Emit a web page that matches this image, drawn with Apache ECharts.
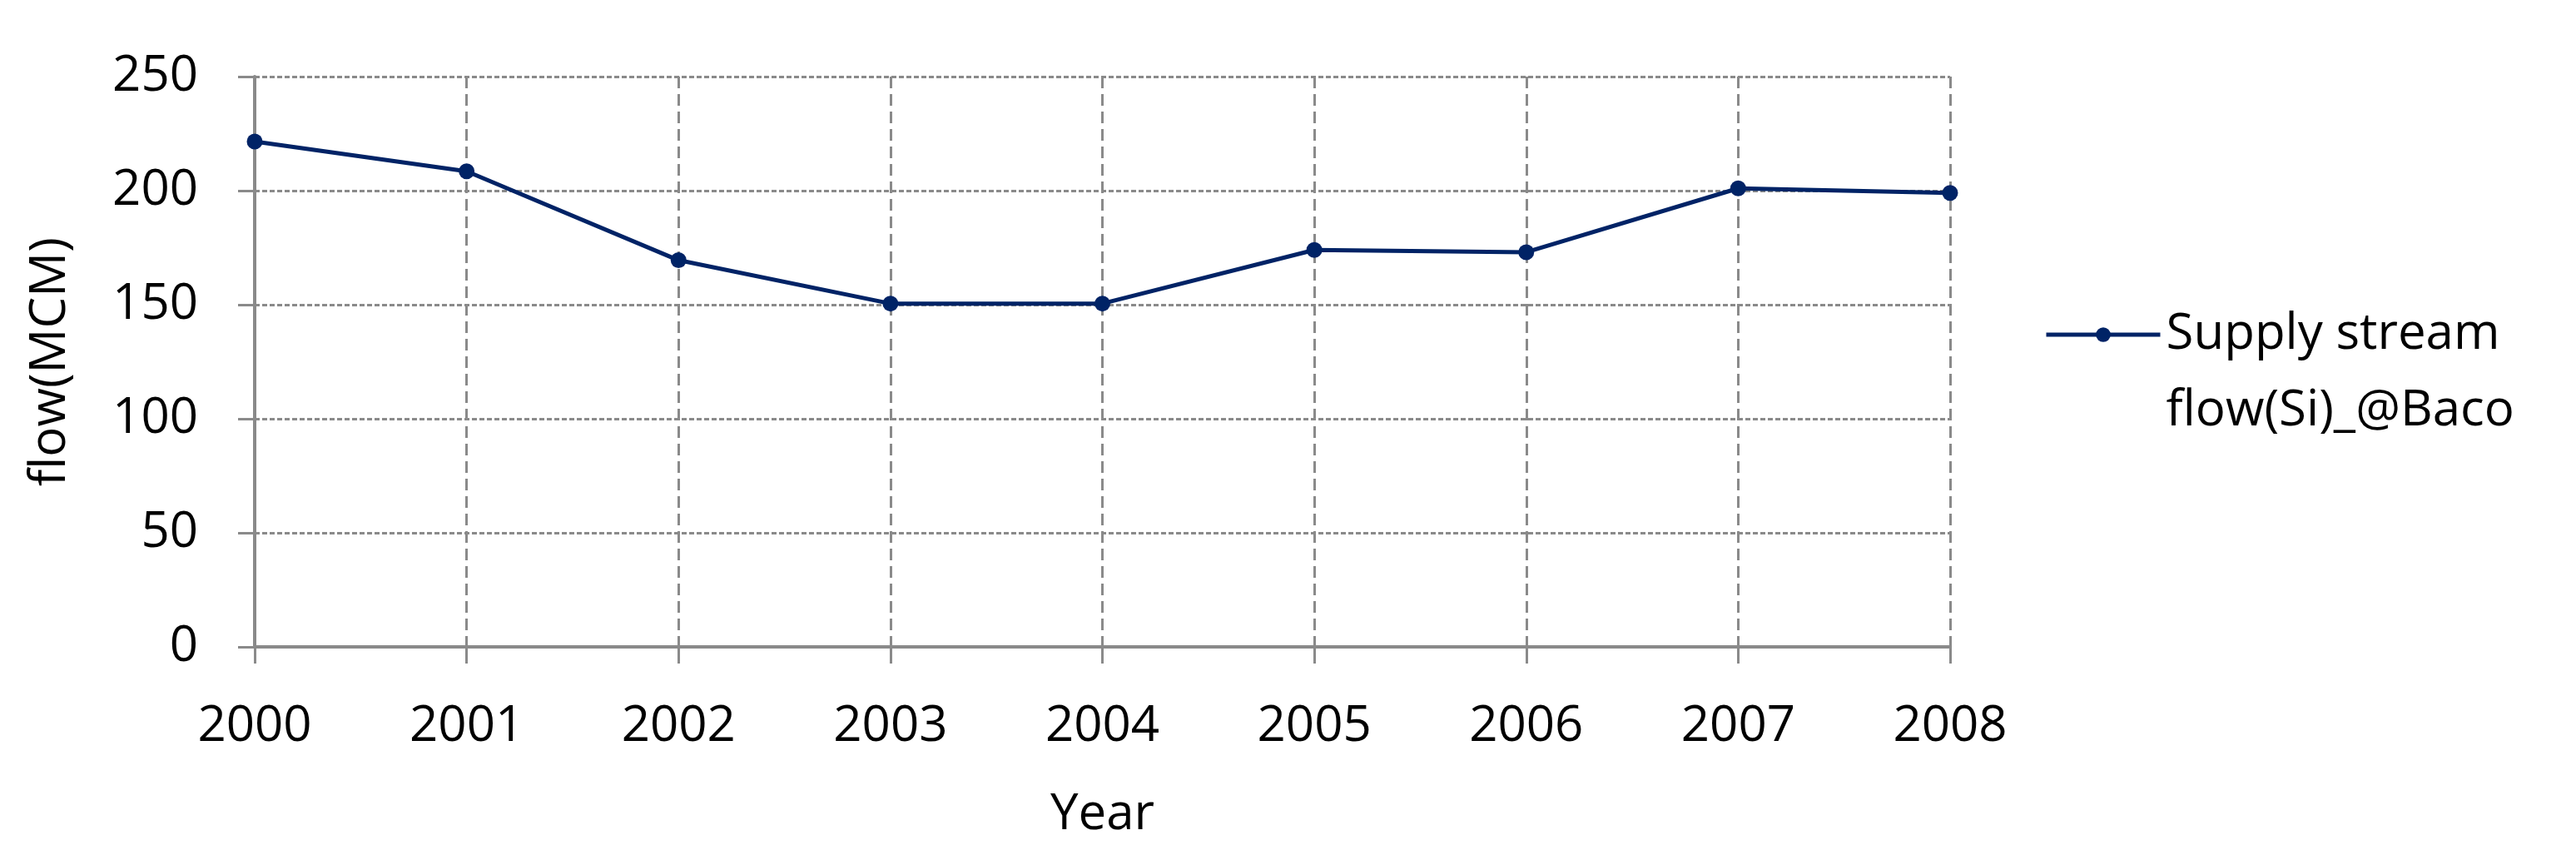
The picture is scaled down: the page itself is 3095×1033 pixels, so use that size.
<!DOCTYPE html>
<html>
<head>
<meta charset="utf-8">
<script src="https://cdn.jsdelivr.net/npm/echarts@6/dist/echarts.min.js"></script>
<style>
html,body{margin:0;padding:0;background:#fff;}
#chart{width:3095px;height:1033px;}
</style>
</head>
<body>
<div id="chart"></div>
<script>
var years = ['2000','2001','2002','2003','2004','2005','2006','2007','2008'];
var flowValues = [221.5, 208.5, 169.5, 150.5, 150.5, 174, 173, 201, 199];
var seriesName = 'Supply stream flow(Si)_@Baco';
var legendLines = ['Supply stream', 'flow(Si)_@Baco'];
var yTicks = [0, 50, 100, 150, 200, 250];

var FONT = 'Open Sans';
var GRID_COLOR = '#8a8a8a';
var LINE_COLOR = '#002366';

var chart = echarts.init(document.getElementById('chart'));
chart.setOption({
  backgroundColor: '#ffffff',
  animation: false,
  grid: { left: 306, right: 752, top: 92, bottom: 256, containLabel: false },
  legend: {
    show: true,
    data: [seriesName],
    left: 2456,
    top: 264,
    padding: 0,
    itemWidth: 137,
    itemHeight: 22,
    itemGap: 0,
    lineStyle: { width: 5, color: LINE_COLOR },
    itemStyle: { color: LINE_COLOR },
    formatter: function () { return '\n' + legendLines.join('\n'); },
    textStyle: {
      fontFamily: FONT, fontSize: 60, color: '#000',
      lineHeight: 92, padding: [0, 0, 0, 2]
    }
  },
  xAxis: {
    type: 'category',
    data: years,
    boundaryGap: false,
    name: 'Year',
    nameLocation: 'middle',
    nameGap: 172,
    nameTextStyle: { fontFamily: FONT, fontSize: 60, color: '#000' },
    axisLine: { show: true, lineStyle: { color: GRID_COLOR, width: 4 } },
    axisTick: { show: true, inside: false, length: 20, alignWithLabel: true, lineStyle: { color: GRID_COLOR, width: 3 } },
    axisLabel: { fontFamily: FONT, fontSize: 60, color: '#000', margin: 66 },
    splitLine: { show: true, lineStyle: { color: GRID_COLOR, width: 3, type: [14, 7] } }
  },
  yAxis: {
    type: 'value',
    min: yTicks[0],
    max: yTicks[yTicks.length - 1],
    interval: 50,
    name: 'flow(MCM)',
    nameLocation: 'middle',
    nameGap: 215,
    nameTextStyle: { fontFamily: FONT, fontSize: 60, color: '#000' },
    axisLine: { show: true, lineStyle: { color: GRID_COLOR, width: 4 } },
    axisTick: { show: true, inside: false, length: 20, lineStyle: { color: GRID_COLOR, width: 3 } },
    axisLabel: { fontFamily: FONT, fontSize: 60, color: '#000', margin: 68 },
    splitLine: { show: true, lineStyle: { color: GRID_COLOR, width: 3, type: [6, 3] } }
  },
  series: [{
    name: seriesName,
    type: 'line',
    data: flowValues,
    symbol: 'circle',
    symbolSize: 19,
    showSymbol: true,
    lineStyle: { color: LINE_COLOR, width: 5 },
    itemStyle: { color: LINE_COLOR },
    z: 5
  }]
});
</script>
</body>
</html>
